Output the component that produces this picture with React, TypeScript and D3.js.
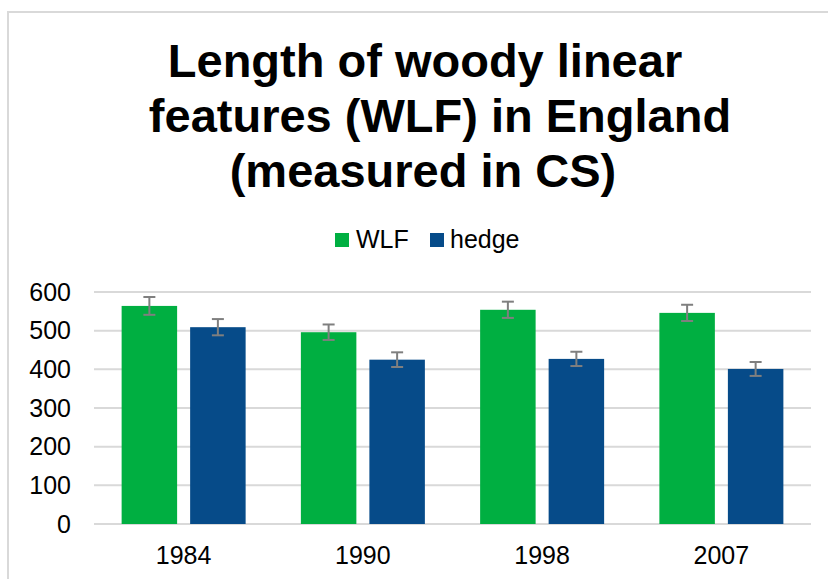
import * as d3 from "d3";
import { useEffect, useRef } from "react";

// chart data
const years = ["1984", "1990", "1998", "2007"];
const seriesNames = ["WLF", "hedge"];
const wlfValues = [564, 496, 554, 546];
const hedgeValues = [509, 425, 427, 401];
const wlfErrors = [23, 20, 21, 21];
const hedgeErrors = [21, 19, 18.5, 18];
const yTicks = [0, 100, 200, 300, 400, 500, 600];
const titleLines = ["Length of woody linear", "features (WLF) in England", "(measured in CS)"];

const WIDTH = 828;
const HEIGHT = 579;
const FONT = "'Liberation Sans', Arial, sans-serif";
const COLORS = { WLF: "#00AF41", hedge: "#064B89" };

const App = () => {
  const svgRef = useRef<SVGSVGElement>(null);

  useEffect(() => {
    const svg = d3.select(svgRef.current);
    svg.selectAll("*").remove();

    const plot = { left: 94, right: 811, top: 292, bottom: 524 };

    // outer chart border
    svg
      .append("rect")
      .attr("x", 8)
      .attr("y", 12)
      .attr("width", WIDTH)
      .attr("height", HEIGHT)
      .attr("fill", "white")
      .attr("stroke", "#d9d9d9")
      .attr("stroke-width", 2);

    // title, each line centred a little differently as in the original
    const titleX = [425, 440, 423];
    const title = svg
      .append("text")
      .attr("text-anchor", "middle")
      .attr("font-family", FONT)
      .attr("font-weight", "bold")
      .attr("font-size", 47)
      .attr("fill", "#000");
    titleLines.forEach((line, i) => {
      title
        .append("tspan")
        .attr("x", titleX[i])
        .attr("y", 77 + i * 55)
        .text(line);
    });

    // legend
    const legendItems = [
      { name: "WLF", x: 335, tx: 356 },
      { name: "hedge", x: 430, tx: 450 },
    ];
    legendItems.forEach((it) => {
      svg
        .append("rect")
        .attr("x", it.x)
        .attr("y", 233)
        .attr("width", 14)
        .attr("height", 14)
        .attr("fill", COLORS[it.name as "WLF" | "hedge"]);
      svg
        .append("text")
        .attr("x", it.tx)
        .attr("y", 248)
        .attr("font-family", FONT)
        .attr("font-size", 25)
        .attr("fill", "#000")
        .text(it.name);
    });

    const y = d3.scaleLinear().domain([0, 600]).range([plot.bottom, plot.top]);
    const x0 = d3.scaleBand().domain(years).range([plot.left, plot.right]);
    const groupPad = (x0.bandwidth() - 124) / 2;
    const x1 = d3
      .scaleBand()
      .domain(seriesNames)
      .range([groupPad, x0.bandwidth() - groupPad])
      .paddingInner(0.19);

    // gridlines
    svg
      .append("g")
      .selectAll("line")
      .data(yTicks)
      .join("line")
      .attr("x1", plot.left)
      .attr("x2", plot.right)
      .attr("y1", (d) => y(d))
      .attr("y2", (d) => y(d))
      .attr("stroke", "#d9d9d9")
      .attr("stroke-width", 2);

    // y tick labels
    svg
      .append("g")
      .selectAll("text")
      .data(yTicks)
      .join("text")
      .attr("x", 71)
      .attr("y", (d) => y(d))
      .attr("dy", "0.35em")
      .attr("text-anchor", "end")
      .attr("font-family", FONT)
      .attr("font-size", 25)
      .attr("fill", "#000")
      .text((d) => d);

    // x labels
    svg
      .append("g")
      .selectAll("text")
      .data(years)
      .join("text")
      .attr("x", (d) => (x0(d) as number) + x0.bandwidth() / 2)
      .attr("y", 564)
      .attr("text-anchor", "middle")
      .attr("font-family", FONT)
      .attr("font-size", 25)
      .attr("fill", "#000")
      .text((d) => d);

    const rows = years.flatMap((yr, i) => [
      { year: yr, series: "WLF", value: wlfValues[i], err: wlfErrors[i] },
      { year: yr, series: "hedge", value: hedgeValues[i], err: hedgeErrors[i] },
    ]);

    // bars
    svg
      .append("g")
      .selectAll("rect")
      .data(rows)
      .join("rect")
      .attr("x", (d) => (x0(d.year) as number) + (x1(d.series) as number))
      .attr("y", (d) => y(d.value))
      .attr("width", x1.bandwidth())
      .attr("height", (d) => y(0) - y(d.value))
      .attr("fill", (d) => COLORS[d.series as "WLF" | "hedge"]);

    // error bars
    const eb = svg.append("g").attr("stroke", "#7f7f7f").attr("stroke-width", 2);
    rows.forEach((d) => {
      const cx = (x0(d.year) as number) + (x1(d.series) as number) + x1.bandwidth() / 2;
      const top = y(d.value + d.err);
      const bot = y(d.value - d.err);
      eb.append("line").attr("x1", cx).attr("x2", cx).attr("y1", top).attr("y2", bot);
      eb.append("line").attr("x1", cx - 6).attr("x2", cx + 6).attr("y1", top).attr("y2", top);
      eb.append("line").attr("x1", cx - 6).attr("x2", cx + 6).attr("y1", bot).attr("y2", bot);
    });
  }, []);

  return (
    <svg
      ref={svgRef}
      width={WIDTH}
      height={HEIGHT}
      style={{ position: "absolute", left: 0, top: 0, display: "block" }}
    ></svg>
  );
};

export default App;
